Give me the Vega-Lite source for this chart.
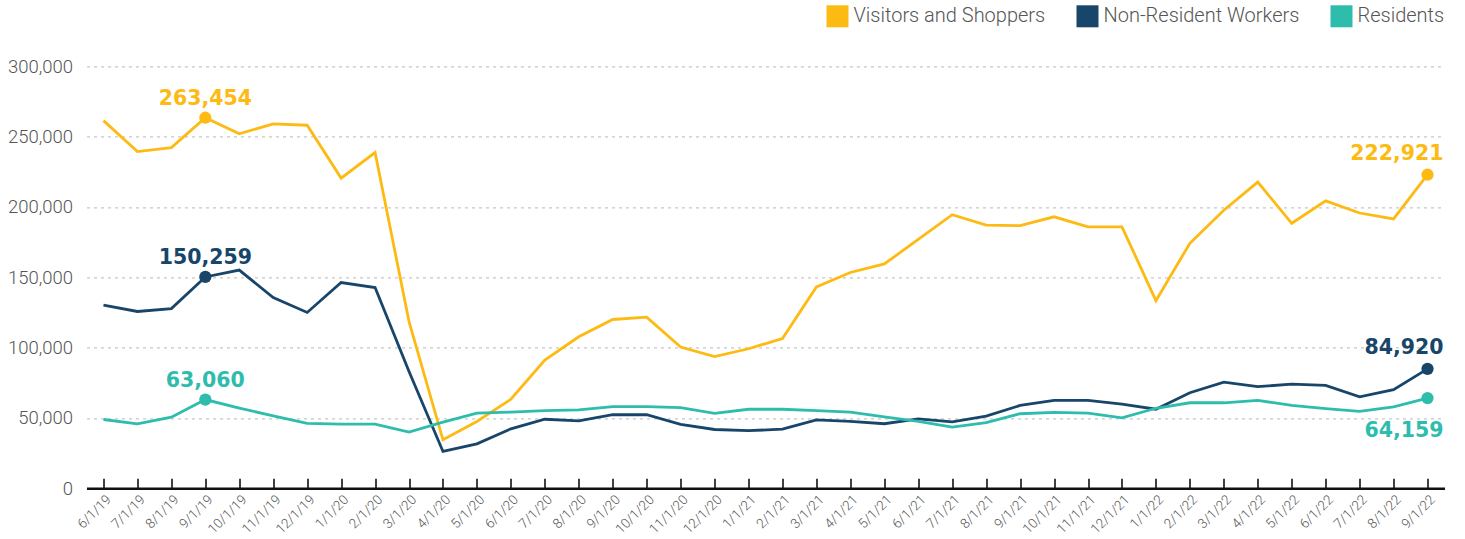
{
  "$schema": "https://vega.github.io/schema/vega-lite/v6.json",
  "autosize": {"type": "none"},
  "padding": {"left": 86.5, "top": 66.3, "right": 20.5, "bottom": 50.5},
  "width": 1358,
  "height": 422,
  "background": "white",
  "config": {
    "view": {"stroke": null},
    "font": "Roboto",
    "axis": {"labelFont": "Roboto", "labelFontWeight": 300, "labelColor": "#555555"},
    "legend": {"labelFont": "Roboto", "labelFontWeight": 300, "labelColor": "#555555"}
  },
  "datasets": {
    "traffic": [
      {"date": "6/1/19", "series": "Visitors and Shoppers", "value": 261400},
      {"date": "7/1/19", "series": "Visitors and Shoppers", "value": 239400},
      {"date": "8/1/19", "series": "Visitors and Shoppers", "value": 242200},
      {"date": "9/1/19", "series": "Visitors and Shoppers", "value": 263454},
      {"date": "10/1/19", "series": "Visitors and Shoppers", "value": 252000},
      {"date": "11/1/19", "series": "Visitors and Shoppers", "value": 259100},
      {"date": "12/1/19", "series": "Visitors and Shoppers", "value": 258100},
      {"date": "1/1/20", "series": "Visitors and Shoppers", "value": 220500},
      {"date": "2/1/20", "series": "Visitors and Shoppers", "value": 238700},
      {"date": "3/1/20", "series": "Visitors and Shoppers", "value": 118500},
      {"date": "4/1/20", "series": "Visitors and Shoppers", "value": 34500},
      {"date": "5/1/20", "series": "Visitors and Shoppers", "value": 47500},
      {"date": "6/1/20", "series": "Visitors and Shoppers", "value": 63300},
      {"date": "7/1/20", "series": "Visitors and Shoppers", "value": 91100},
      {"date": "8/1/20", "series": "Visitors and Shoppers", "value": 107700},
      {"date": "9/1/20", "series": "Visitors and Shoppers", "value": 120000},
      {"date": "10/1/20", "series": "Visitors and Shoppers", "value": 121700},
      {"date": "11/1/20", "series": "Visitors and Shoppers", "value": 100400},
      {"date": "12/1/20", "series": "Visitors and Shoppers", "value": 93600},
      {"date": "1/1/21", "series": "Visitors and Shoppers", "value": 99200},
      {"date": "2/1/21", "series": "Visitors and Shoppers", "value": 106500},
      {"date": "3/1/21", "series": "Visitors and Shoppers", "value": 143200},
      {"date": "4/1/21", "series": "Visitors and Shoppers", "value": 153400},
      {"date": "5/1/21", "series": "Visitors and Shoppers", "value": 159500},
      {"date": "6/1/21", "series": "Visitors and Shoppers", "value": 176900},
      {"date": "7/1/21", "series": "Visitors and Shoppers", "value": 194500},
      {"date": "8/1/21", "series": "Visitors and Shoppers", "value": 187100},
      {"date": "9/1/21", "series": "Visitors and Shoppers", "value": 186700},
      {"date": "10/1/21", "series": "Visitors and Shoppers", "value": 193000},
      {"date": "11/1/21", "series": "Visitors and Shoppers", "value": 185900},
      {"date": "12/1/21", "series": "Visitors and Shoppers", "value": 185900},
      {"date": "1/1/22", "series": "Visitors and Shoppers", "value": 133400},
      {"date": "2/1/22", "series": "Visitors and Shoppers", "value": 174200},
      {"date": "3/1/22", "series": "Visitors and Shoppers", "value": 197700},
      {"date": "4/1/22", "series": "Visitors and Shoppers", "value": 217700},
      {"date": "5/1/22", "series": "Visitors and Shoppers", "value": 188400},
      {"date": "6/1/22", "series": "Visitors and Shoppers", "value": 204300},
      {"date": "7/1/22", "series": "Visitors and Shoppers", "value": 195700},
      {"date": "8/1/22", "series": "Visitors and Shoppers", "value": 191500},
      {"date": "9/1/22", "series": "Visitors and Shoppers", "value": 222921},
      {"date": "6/1/19", "series": "Non-Resident Workers", "value": 130200},
      {"date": "7/1/19", "series": "Non-Resident Workers", "value": 125700},
      {"date": "8/1/19", "series": "Non-Resident Workers", "value": 127800},
      {"date": "9/1/19", "series": "Non-Resident Workers", "value": 150259},
      {"date": "10/1/19", "series": "Non-Resident Workers", "value": 155100},
      {"date": "11/1/19", "series": "Non-Resident Workers", "value": 135600},
      {"date": "12/1/19", "series": "Non-Resident Workers", "value": 125000},
      {"date": "1/1/20", "series": "Non-Resident Workers", "value": 146300},
      {"date": "2/1/20", "series": "Non-Resident Workers", "value": 142700},
      {"date": "3/1/20", "series": "Non-Resident Workers", "value": 83000},
      {"date": "4/1/20", "series": "Non-Resident Workers", "value": 26200},
      {"date": "5/1/20", "series": "Non-Resident Workers", "value": 31600},
      {"date": "6/1/20", "series": "Non-Resident Workers", "value": 42300},
      {"date": "7/1/20", "series": "Non-Resident Workers", "value": 49100},
      {"date": "8/1/20", "series": "Non-Resident Workers", "value": 47900},
      {"date": "9/1/20", "series": "Non-Resident Workers", "value": 52300},
      {"date": "10/1/20", "series": "Non-Resident Workers", "value": 52300},
      {"date": "11/1/20", "series": "Non-Resident Workers", "value": 45400},
      {"date": "12/1/20", "series": "Non-Resident Workers", "value": 41800},
      {"date": "1/1/21", "series": "Non-Resident Workers", "value": 41000},
      {"date": "2/1/21", "series": "Non-Resident Workers", "value": 42000},
      {"date": "3/1/21", "series": "Non-Resident Workers", "value": 48600},
      {"date": "4/1/21", "series": "Non-Resident Workers", "value": 47600},
      {"date": "5/1/21", "series": "Non-Resident Workers", "value": 45900},
      {"date": "6/1/21", "series": "Non-Resident Workers", "value": 49400},
      {"date": "7/1/21", "series": "Non-Resident Workers", "value": 47200},
      {"date": "8/1/21", "series": "Non-Resident Workers", "value": 51300},
      {"date": "9/1/21", "series": "Non-Resident Workers", "value": 58900},
      {"date": "10/1/21", "series": "Non-Resident Workers", "value": 62500},
      {"date": "11/1/21", "series": "Non-Resident Workers", "value": 62500},
      {"date": "12/1/21", "series": "Non-Resident Workers", "value": 59900},
      {"date": "1/1/22", "series": "Non-Resident Workers", "value": 56200},
      {"date": "2/1/22", "series": "Non-Resident Workers", "value": 67900},
      {"date": "3/1/22", "series": "Non-Resident Workers", "value": 75500},
      {"date": "4/1/22", "series": "Non-Resident Workers", "value": 72300},
      {"date": "5/1/22", "series": "Non-Resident Workers", "value": 74000},
      {"date": "6/1/22", "series": "Non-Resident Workers", "value": 73100},
      {"date": "7/1/22", "series": "Non-Resident Workers", "value": 65000},
      {"date": "8/1/22", "series": "Non-Resident Workers", "value": 70100},
      {"date": "9/1/22", "series": "Non-Resident Workers", "value": 84920},
      {"date": "6/1/19", "series": "Residents", "value": 48900},
      {"date": "7/1/19", "series": "Residents", "value": 45800},
      {"date": "8/1/19", "series": "Residents", "value": 50600},
      {"date": "9/1/19", "series": "Residents", "value": 63060},
      {"date": "10/1/19", "series": "Residents", "value": 57000},
      {"date": "11/1/19", "series": "Residents", "value": 51500},
      {"date": "12/1/19", "series": "Residents", "value": 46100},
      {"date": "1/1/20", "series": "Residents", "value": 45600},
      {"date": "2/1/20", "series": "Residents", "value": 45600},
      {"date": "3/1/20", "series": "Residents", "value": 39900},
      {"date": "4/1/20", "series": "Residents", "value": 47000},
      {"date": "5/1/20", "series": "Residents", "value": 53400},
      {"date": "6/1/20", "series": "Residents", "value": 54200},
      {"date": "7/1/20", "series": "Residents", "value": 55200},
      {"date": "8/1/20", "series": "Residents", "value": 55700},
      {"date": "9/1/20", "series": "Residents", "value": 58100},
      {"date": "10/1/20", "series": "Residents", "value": 58100},
      {"date": "11/1/20", "series": "Residents", "value": 57400},
      {"date": "12/1/20", "series": "Residents", "value": 53300},
      {"date": "1/1/21", "series": "Residents", "value": 56200},
      {"date": "2/1/21", "series": "Residents", "value": 56200},
      {"date": "3/1/21", "series": "Residents", "value": 55200},
      {"date": "4/1/21", "series": "Residents", "value": 54200},
      {"date": "5/1/21", "series": "Residents", "value": 50800},
      {"date": "6/1/21", "series": "Residents", "value": 47600},
      {"date": "7/1/21", "series": "Residents", "value": 43500},
      {"date": "8/1/21", "series": "Residents", "value": 46700},
      {"date": "9/1/21", "series": "Residents", "value": 53000},
      {"date": "10/1/21", "series": "Residents", "value": 54000},
      {"date": "11/1/21", "series": "Residents", "value": 53500},
      {"date": "12/1/21", "series": "Residents", "value": 50100},
      {"date": "1/1/22", "series": "Residents", "value": 56900},
      {"date": "2/1/22", "series": "Residents", "value": 60800},
      {"date": "3/1/22", "series": "Residents", "value": 60800},
      {"date": "4/1/22", "series": "Residents", "value": 62500},
      {"date": "5/1/22", "series": "Residents", "value": 58900},
      {"date": "6/1/22", "series": "Residents", "value": 56700},
      {"date": "7/1/22", "series": "Residents", "value": 54700},
      {"date": "8/1/22", "series": "Residents", "value": 57900},
      {"date": "9/1/22", "series": "Residents", "value": 64159}
    ]
  },
  "data": {"name": "traffic"},
  "encoding": {
    "x": {
      "field": "date", "type": "ordinal", "sort": null,
      "scale": {"type": "point", "padding": 0.5},
      "axis": {
        "title": null, "labelAngle": -45, "labelAlign": "right", "labelBaseline": "top",
        "labelFontSize": 13.5, "labelPadding": 14, "labelLimit": 200,
        "domainColor": "#111111", "domainWidth": 2.5,
        "tickColor": "#111111", "tickWidth": 1.6, "tickSize": -10, "ticks": true,
        "grid": false
      }
    },
    "y": {
      "field": "value", "type": "quantitative",
      "scale": {"domain": [0, 300000], "nice": false},
      "axis": {
        "title": null, "values": [0, 50000, 100000, 150000, 200000, 250000, 300000],
        "format": ",.0f", "labelFontSize": 18.5, "labelPadding": 14,
        "domain": false, "ticks": false,
        "grid": true, "gridColor": "#c8c8c8", "gridDash": [3, 4], "gridWidth": 1.2
      }
    },
    "color": {
      "field": "series", "type": "nominal",
      "scale": {
        "domain": ["Visitors and Shoppers", "Non-Resident Workers", "Residents"],
        "range": ["#FDBA12", "#18456A", "#2EBDAD"]
      }
    }
  },
  "layer": [
    {
      "mark": {"type": "line", "strokeWidth": 2.8},
      "encoding": {
        "color": {
          "field": "series", "type": "nominal",
          "legend": {
            "title": null, "orient": "none", "direction": "horizontal",
            "legendX": 740, "legendY": -61,
            "symbolType": "square", "symbolSize": 484, "symbolStrokeWidth": 0,
            "symbolOpacity": 1, "labelLimit": 400,
            "labelFontSize": 20, "labelOffset": 5, "columnPadding": 31
          }
        }
      }
    },
    {
      "transform": [{"filter": "datum.date === '9/1/19' || datum.date === '9/1/22'"}],
      "mark": {"type": "circle", "size": 150, "opacity": 1}
    },
    {
      "transform": [{"filter": "datum.date === '9/1/19'"}],
      "mark": {"type": "text", "font": "DejaVu Sans", "fontWeight": "bold", "fontSize": 20.5, "align": "center", "baseline": "alphabetic", "dy": -13},
      "encoding": {"text": {"field": "value", "type": "quantitative", "format": ",.0f"}}
    },
    {
      "transform": [{"filter": "datum.date === '9/1/22' && datum.series !== 'Residents'"}],
      "mark": {"type": "text", "font": "DejaVu Sans", "fontWeight": "bold", "fontSize": 20.5, "align": "right", "baseline": "alphabetic", "dx": 16, "dy": -15},
      "encoding": {"text": {"field": "value", "type": "quantitative", "format": ",.0f"}}
    },
    {
      "transform": [{"filter": "datum.date === '9/1/22' && datum.series === 'Residents'"}],
      "mark": {"type": "text", "font": "DejaVu Sans", "fontWeight": "bold", "fontSize": 20.5, "align": "right", "baseline": "alphabetic", "dx": 16, "dy": 39},
      "encoding": {"text": {"field": "value", "type": "quantitative", "format": ",.0f"}}
    }
  ]
}
